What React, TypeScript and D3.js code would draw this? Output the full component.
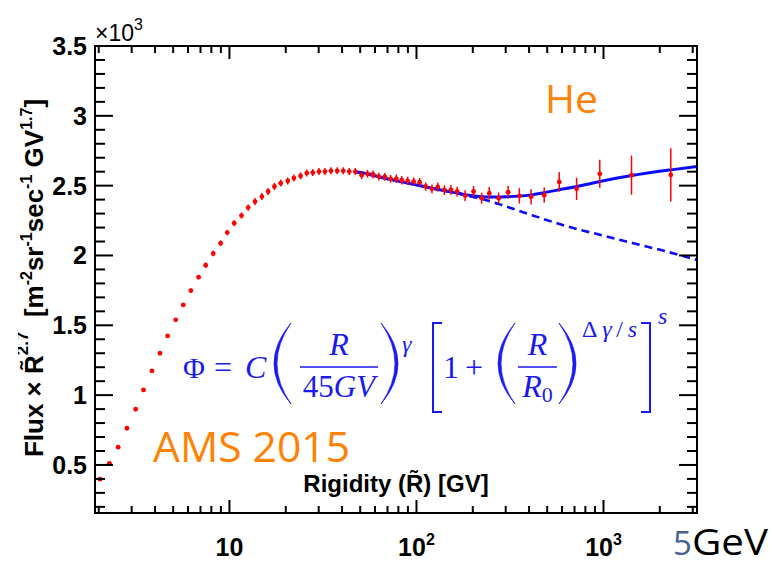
import React from 'react';
import * as d3 from 'd3';

// AMS helium flux x R^2.7 (units of 10^3)
const rigidity = [2.03, 2.28, 2.54, 2.83, 3.15, 3.47, 3.85, 4.25, 4.67, 5.16, 5.66, 6.22, 6.84, 7.46, 8.19, 8.97, 9.73,
  10.6, 11.6, 12.6, 13.7, 14.9, 16.1, 17.4, 18.8, 20.5, 22.1, 24.0, 25.9, 27.9, 30.1, 32.4, 34.9, 37.7, 40.6, 43.7,
  47.1, 50.9, 54.7, 58.6, 62.9, 67.7, 72.7, 78.0, 83.5, 89.7, 96.6, 104, 112, 121, 130, 141, 153, 165, 182, 202, 223,
  245, 275, 309, 355, 410, 482, 580, 718, 955, 1412, 2290];
const flux = [0.398, 0.512, 0.627, 0.763, 0.899, 1.037, 1.173, 1.300, 1.424, 1.539, 1.646, 1.749, 1.845, 1.930, 2.014,
  2.088, 2.164, 2.231, 2.286, 2.343, 2.386, 2.422, 2.458, 2.494, 2.518, 2.534, 2.554, 2.570, 2.590, 2.594, 2.601, 2.601,
  2.606, 2.606, 2.606, 2.601, 2.601, 2.575, 2.585, 2.580, 2.565, 2.563, 2.549, 2.549, 2.539, 2.534, 2.529, 2.525, 2.494,
  2.477, 2.491, 2.468, 2.470, 2.458, 2.429, 2.458, 2.410, 2.446, 2.410, 2.453, 2.427, 2.420, 2.432, 2.527, 2.477, 2.585,
  2.575, 2.577];
const fluxErr = [0.008, 0.008, 0.008, 0.008, 0.01, 0.01, 0.01, 0.01, 0.012, 0.012, 0.012, 0.015, 0.015, 0.02, 0.02, 0.02,
  0.02, 0.022, 0.022, 0.022, 0.025, 0.025, 0.025, 0.025, 0.025, 0.025, 0.025, 0.025, 0.025, 0.025, 0.025, 0.025, 0.025,
  0.025, 0.025, 0.025, 0.025, 0.028, 0.028, 0.028, 0.028, 0.028, 0.028, 0.03, 0.03, 0.03, 0.03, 0.03, 0.03, 0.032,
  0.032, 0.035, 0.035, 0.035, 0.038, 0.04, 0.04, 0.045, 0.04, 0.045, 0.055, 0.055, 0.055, 0.07, 0.08, 0.1, 0.14, 0.19];

// fit (solid) and single power law (dashed)
const fitRigidity = [47, 55, 66, 82, 100, 113, 139, 165, 185, 223, 260, 304, 353, 409, 481, 578, 719, 957, 1415, 2296, 3162];
const fitFlux = [2.600, 2.585, 2.556, 2.530, 2.505, 2.490, 2.465, 2.447, 2.434, 2.421, 2.418, 2.420, 2.425, 2.434, 2.450,
  2.470, 2.494, 2.530, 2.572, 2.613, 2.637];
const powerRigidity = [47, 66, 100, 139, 185, 223, 279, 422, 635, 957, 1442, 2177, 3162];
const powerFlux = [2.600, 2.556, 2.505, 2.465, 2.430, 2.405, 2.366, 2.285, 2.210, 2.148, 2.088, 2.028, 1.968];

const xMajorTicks = [10, 100, 1000];
const xTickExponents = ['', '2', '3'];
const yMajorTicks = [0.5, 1, 1.5, 2, 2.5, 3, 3.5];
const yTickLabels = ['0.5', '1', '1.5', '2', '2.5', '3', '3.5'];

const W = 771, H = 562;
const F = { left: 95, right: 697, top: 46, bottom: 513 };
const BOLD = "'Liberation Sans', Arial, Helvetica, sans-serif";
const SERIF = "'Liberation Serif', 'DejaVu Serif', serif";
const SLIDE = "'Open Sans', 'Noto Sans', sans-serif";
const BLUE = '#1a1af0';

function parenPath(x0: number, x1: number, top: number, bot: number, open: boolean) {
  const mid = (top + bot) / 2;
  const t = 3;
  if (open) {
    const xl = 2 * x0 - x1;
    return `M${x1},${top} Q${xl},${mid} ${x1},${bot} Q${xl + 2 * t},${mid} ${x1},${top} Z`;
  }
  const xr = 2 * x1 - x0;
  return `M${x0},${top} Q${xr},${mid} ${x0},${bot} Q${xr - 2 * t},${mid} ${x0},${top} Z`;
}

export default function App() {
  const x = d3.scaleLog().domain([1.91, 3162]).range([F.left, F.right]);
  const y = d3.scaleLinear().domain([0.156, 3.5]).range([F.bottom, F.top]);

  const xMinor: number[] = [];
  [1, 10, 100, 1000].forEach(d => d3.range(2, 10).forEach(m => {
    const v = d * m;
    if (v > 1.91 && v < 3162) xMinor.push(v);
  }));
  const yMinor = d3.range(2, 35).map(i => i / 10).filter(v => Math.abs(v * 2 - Math.round(v * 2)) > 1e-6);

  const line = d3.line<[number, number]>().x(d => x(d[0])).y(d => y(d[1])).curve(d3.curveMonotoneX);
  const fitPath = line(fitRigidity.map((r, i) => [r, fitFlux[i]]) as [number, number][]) || '';
  const powPath = line(powerRigidity.map((r, i) => [r, powerFlux[i]]) as [number, number][]) || '';

  return (
    <svg width={W} height={H} style={{ position: 'absolute', left: 0, top: 0, background: '#fff' }}>
      <defs>
        <clipPath id="plotclip"><rect x={F.left} y={F.top} width={F.right - F.left} height={F.bottom - F.top} /></clipPath>
        <clipPath id="titleclip"><rect x={18} y={0} width={100} height={H} /></clipPath>
      </defs>

      {/* curves */}
      <g clipPath="url(#plotclip)">
        <path d={powPath} fill="none" stroke="#0a0aff" strokeWidth={2.6} strokeDasharray="8,5" />
        <path d={fitPath} fill="none" stroke="#0a0aff" strokeWidth={3} />
      </g>

      {/* data */}
      <g>
        {rigidity.map((r, i) => (
          <g key={i}>
            <line x1={x(r)} x2={x(r)} y1={y(flux[i] - fluxErr[i])} y2={y(flux[i] + fluxErr[i])} stroke="#ff0000" strokeWidth={1.5} />
            <circle cx={x(r)} cy={y(flux[i])} r={2.4} fill="#ff0000" />
          </g>
        ))}
      </g>

      {/* frame and ticks */}
      <g stroke="#000" strokeWidth={2}>
        <rect x={F.left} y={F.top} width={F.right - F.left} height={F.bottom - F.top} fill="none" />
        {xMajorTicks.map(v => (
          <g key={'xM' + v}>
            <line x1={x(v)} x2={x(v)} y1={F.bottom} y2={F.bottom - 13} />
            <line x1={x(v)} x2={x(v)} y1={F.top} y2={F.top + 13} />
          </g>
        ))}
        {xMinor.map(v => (
          <g key={'xm' + v}>
            <line x1={x(v)} x2={x(v)} y1={F.bottom} y2={F.bottom - 7} />
            <line x1={x(v)} x2={x(v)} y1={F.top} y2={F.top + 7} />
          </g>
        ))}
        {yMajorTicks.map(v => (
          <g key={'yM' + v}>
            <line x1={F.left} x2={F.left + 18} y1={y(v)} y2={y(v)} />
            <line x1={F.right} x2={F.right - 18} y1={y(v)} y2={y(v)} />
          </g>
        ))}
        {yMinor.map(v => (
          <g key={'ym' + v}>
            <line x1={F.left} x2={F.left + 10} y1={y(v)} y2={y(v)} />
            <line x1={F.right} x2={F.right - 10} y1={y(v)} y2={y(v)} />
          </g>
        ))}
      </g>

      {/* tick labels */}
      <g fontFamily={BOLD} fontWeight="bold" fontSize={25} fill="#000">
        {yMajorTicks.map((v, i) => (
          <text key={'yl' + v} x={87} y={y(v) + 9} textAnchor="end">{yTickLabels[i]}</text>
        ))}
        {xMajorTicks.map((v, i) => (
          <text key={'xl' + v} x={x(v)} y={556} textAnchor="middle">
            {xTickExponents[i] ? <>10<tspan fontSize={16} dy={-11}>{xTickExponents[i]}</tspan></> : '10'}
          </text>
        ))}
      </g>
      <text x={95} y={41} fontFamily={BOLD} fontSize={23} fill="#000">×10<tspan fontSize={16} dy={-11}>3</tspan></text>

      {/* axis titles */}
      <text x={396} y={492} textAnchor="middle" fontFamily={BOLD} fontWeight="bold" fontSize={24} fill="#000">
        Rigidity (R{'\u0303'}) [GV]
      </text>
      <g clipPath="url(#titleclip)">
        <text transform="translate(43,278) rotate(-90)" textAnchor="middle" fontFamily={BOLD} fontWeight="bold" fontSize={26} fill="#000">
          Flux × R{'\u0303'}<tspan fontSize={17} dy={-15}>2.7</tspan>
          <tspan dy={15}>{'\u00a0\u00a0'}[m</tspan><tspan fontSize={16} dy={-11}>-2</tspan>
          <tspan dy={11}>sr</tspan><tspan fontSize={16} dy={-11}>-1</tspan>
          <tspan dy={11}>sec</tspan><tspan fontSize={16} dy={-11}>-1</tspan>
          <tspan dy={11}>{'\u00a0'}GV</tspan><tspan fontSize={16} dy={-11}>1.7</tspan>
          <tspan dy={11}>]</tspan>
        </text>
      </g>

      {/* formula */}
      <g fill={BLUE} fontFamily={SERIF}>
        <text x={183} y={378} fontSize={30}>Φ</text>
        <text x={214} y={378} fontSize={32}>=</text>
        <text x={245} y={378} fontSize={32} fontStyle="italic">C</text>
        <path d={parenPath(274, 291, 323, 404, true)} stroke={BLUE} strokeWidth={0.7} />
        <text x={339} y={355} fontSize={32} fontStyle="italic" textAnchor="middle">R</text>
        <line x1={300} x2={378} y1={367} y2={367} stroke={BLUE} strokeWidth={1.4} />
        <text x={339} y={397} fontSize={31} textAnchor="middle">45<tspan fontStyle="italic">GV</tspan></text>
        <path d={parenPath(381, 398, 323, 404, false)} stroke={BLUE} strokeWidth={0.7} />
        <text x={402} y={352} fontSize={24} fontStyle="italic">γ</text>
        <path d="M442,323 H433 V412 H442" fill="none" stroke={BLUE} strokeWidth={2} />
        <text x={443} y={378} fontSize={32}>1</text>
        <text x={465} y={378} fontSize={32}>+</text>
        <path d={parenPath(498, 515, 323, 404, true)} stroke={BLUE} strokeWidth={0.7} />
        <text x={537.5} y={355} fontSize={32} fontStyle="italic" textAnchor="middle">R</text>
        <line x1={518} x2={557} y1={367} y2={367} stroke={BLUE} strokeWidth={1.4} />
        <text x={537.5} y={397} fontSize={32} textAnchor="middle"><tspan fontStyle="italic">R</tspan><tspan fontSize={22} dy={5}>0</tspan></text>
        <path d={parenPath(559, 576, 323, 404, false)} stroke={BLUE} strokeWidth={0.7} />
        <text x={582} y={337} fontSize={24} textLength={55} lengthAdjust="spacing">Δ<tspan fontStyle="italic">γ</tspan>/<tspan fontStyle="italic">s</tspan></text>
        <path d="M641,323 H650 V412 H641" fill="none" stroke={BLUE} strokeWidth={2} />
        <text x={658} y={324} fontSize={24} fontStyle="italic">s</text>
      </g>

      {/* slide annotations */}
      <text x={545} y={113} fontFamily={SLIDE} fontSize={38} fill="#ff8205" textLength={53} lengthAdjust="spacingAndGlyphs">He</text>
      <text x={153} y={462} fontFamily={SLIDE} fontSize={42} fill="#ff8205" textLength={197} lengthAdjust="spacingAndGlyphs">AMS 2015</text>
      <text x={673} y={555} fontFamily={SLIDE} fontSize={33} fill="#44618f">5</text>
      <text x={692} y={555} fontFamily={SLIDE} fontSize={37} fill="#000" textLength={76} lengthAdjust="spacingAndGlyphs">GeV</text>
    </svg>
  );
}
